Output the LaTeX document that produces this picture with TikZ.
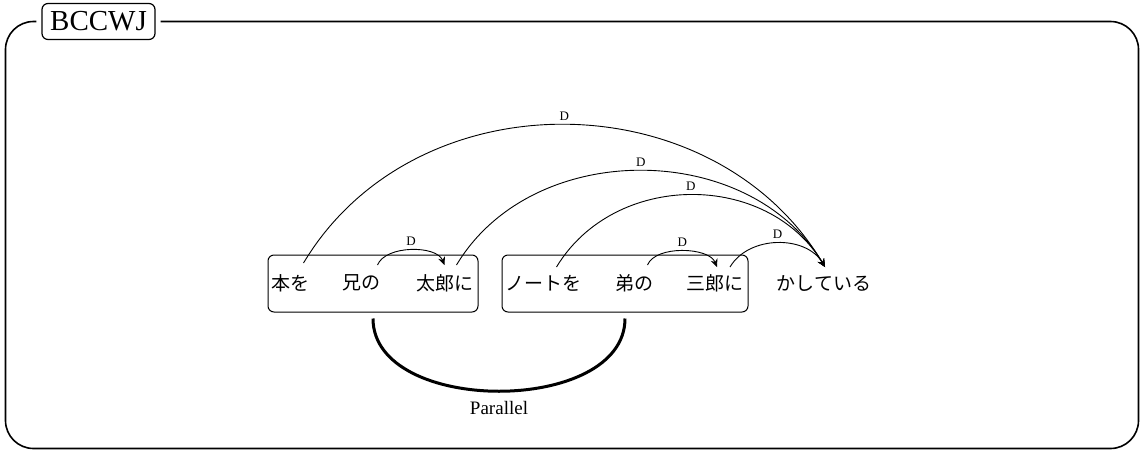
\documentclass[tikz,border=0pt]{standalone}
\usepackage{fontspec}
\setmainfont{Liberation Serif}
\newfontfamily\jafont{Noto Sans CJK JP}
\usetikzlibrary{arrows.meta,calc}
\begin{document}
\begin{tikzpicture}[x=0.5pt,y=-0.5pt,
  word/.style={inner sep=0pt, font=\jafont\fontsize{9.5}{11}\selectfont},
  group/.style={draw, rounded corners=3pt, line width=0.5pt, minimum height=28.5pt, inner sep=0pt},
  dep/.style={line width=0.45pt, -{Stealth[length=4pt,width=3.6pt]}},
  deplabel/.style={font=\fontsize{6.5}{7}\selectfont, inner sep=0pt, above=2pt, pos=0.5},
  frame/.style={line width=0.8pt, rounded corners=14pt},
  titlebox/.style={draw, rounded corners=3pt, line width=0.6pt, minimum width=56.5pt,
    minimum height=18pt, inner sep=0pt, font=\fontsize{14.5}{16}\selectfont},
  parallel/.style={line width=1.5pt},
  ]
\useasboundingbox (0,0) rectangle (1140,450);

% frame with its title
\node[titlebox] (title) at (98.5,21.5) {BCCWJ};
\draw[frame] ($(title.west)+(-5,0)$) -- (5.5,21.5) -- (5.5,448.5) -- (1138.5,448.5)
  -- (1138.5,21.5) -- ($(title.east)+(5,0)$);

% coordinated groups
\node[group, minimum width=105pt] (g1) at (373,283.5) {};
\node[group, minimum width=123pt] (g2) at (625,283.5) {};

% words
\node[word] (w1) at (290.5,283) {本を};
\node[word] (w2) at (361.5,283) {兄の};
\node[word] (w3) at (444.5,283) {太郎に};
\node[word] (w4) at (543.5,283) {ノートを};
\node[word] (w5) at (634.5,283) {弟の};
\node[word] (w6) at (715,283) {三郎に};
\node[word] (w7) at (824,283) {かしている};

% dependency arcs
\draw[dep] ($(w1.center)+(13,-20)$) .. controls +(112,-187) and +(-112,-187)
  .. ($(w7.center)+(1,-16)$) node[deplabel] (d1) {D};
\draw[dep] ($(w3.center)+(12,-18)$) .. controls +(76,-127) and +(-76,-127)
  .. ($(w7.center)+(1,-16)$) node[deplabel] (d2) {D};
\draw[dep] ($(w4.center)+(13,-16)$) .. controls +(58,-96) and +(-58,-96)
  .. ($(w7.center)+(1,-16)$) node[deplabel] (d3) {D};
\draw[dep] ($(w6.center)+(15,-16)$) .. controls +(19,-32) and +(-19,-32)
  .. ($(w7.center)+(1,-16)$) node[deplabel] (d4) {D};
\draw[dep] ($(w2.center)+(16,-18)$) .. controls +(8,-20) and +(-8,-20)
  .. ($(w3.center)+(0,-18)$) node[deplabel] (d5) {D};
\draw[dep] ($(w5.center)+(13,-18)$) .. controls +(8,-20) and +(-8,-20)
  .. ($(w6.center)+(2,-16)$) node[deplabel] (d6) {D};

% parallel relation between the groups
\draw[parallel] ($(g1.south)+(0,6)$) .. controls +(0,97) and +(0,97)
  .. ($(g2.south)+(0,6)$) node[pos=0.5, below=4.5pt, inner sep=0pt,
  font=\fontsize{9.5}{11}\selectfont] (par) {Parallel};
\end{tikzpicture}
\end{document}
